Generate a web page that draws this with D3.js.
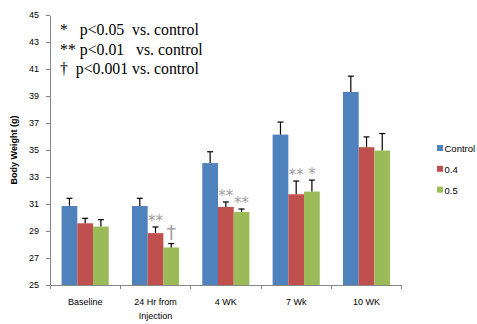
<!DOCTYPE html>
<html lang="en">
<head>
<meta charset="UTF-8">
<title>Body weight</title>
<style>
  body { margin: 0; background: #fff; }
  .axis path, .axis line { fill: none; stroke: #868686; shape-rendering: crispEdges; }
  .axis text { font-family: "Liberation Sans", Arial, sans-serif; font-size: 9px; fill: #000; }
  .note { font-family: "Liberation Serif", "Times New Roman", serif; font-size: 15.8px; fill: #000; }
  .sig { font-family: "DejaVu Sans", sans-serif; font-size: 15px; fill: #a0a0a0; text-anchor: middle; }
  .legend text { font-family: "Liberation Sans", Arial, sans-serif; font-size: 9.5px; }
</style>
</head>
<body>
<script src="https://d3js.org/d3.v7.min.js"></script>
<script>
var width = 477, height = 324;
var margin = { left: 50, right: 75, top: 15, bottom: 39 };

var categories = ["Baseline", "24 Hr from\nInjection", "4 WK", "7 Wk", "10 WK"];
var series = ["Control", "0.4", "0.5"];
var colors = ["#4F81BD", "#C0504D", "#9BBB59"];
var control = [30.85, 30.85, 34.03, 36.14, 39.30];
var dose04 = [29.57, 28.84, 30.78, 31.72, 35.21];
var dose05 = [29.33, 27.78, 30.41, 31.92, 34.96];
var errControl = [0.57, 0.57, 0.84, 0.93, 1.17];
var err04 = [0.37, 0.46, 0.37, 0.98, 0.76];
var err05 = [0.51, 0.29, 0.22, 0.85, 1.26];
var sig04 = ["", "**", "**", "**", ""];
var sig05 = ["", "†", "**", "*", ""];
var yTicks = [25, 27, 29, 31, 33, 35, 37, 39, 41, 43, 45];
var notes = ["*   p<0.05  vs. control", "** p<0.01   vs. control", "†  p<0.001 vs. control"];

var values = [control, dose04, dose05];
var errs = [errControl, err04, err05];
var sigs = [[], sig04, sig05];

var svg = d3.select("body").append("svg").attr("width", width).attr("height", height);

var x0 = d3.scaleBand().domain(d3.range(categories.length))
  .range([margin.left, 401.7]).paddingInner(0.33).paddingOuter(0.165);
var x1 = d3.scaleBand().domain(d3.range(series.length)).range([0, x0.bandwidth()]);
var y = d3.scaleLinear().domain([25, 45]).range([285, margin.top]);

// bars
var groups = svg.selectAll(".grp").data(categories).enter().append("g")
  .attr("transform", function (d, i) { return "translate(" + x0(i) + ",0)"; });

series.forEach(function (s, si) {
  groups.append("rect")
    .attr("x", x1(si))
    .attr("width", x1.bandwidth())
    .attr("y", function (d, i) { return y(values[si][i]); })
    .attr("height", function (d, i) { return y(25) - y(values[si][i]); })
    .attr("fill", colors[si]);
  // error bars (upper only)
  var cx = x1(si) + x1.bandwidth() / 2;
  groups.append("line")
    .attr("x1", cx).attr("x2", cx)
    .attr("y1", function (d, i) { return y(values[si][i]); })
    .attr("y2", function (d, i) { return y(values[si][i] + errs[si][i]); })
    .attr("stroke", "#000").attr("stroke-width", 1.2);
  groups.append("line")
    .attr("x1", cx - 3).attr("x2", cx + 3)
    .attr("y1", function (d, i) { return y(values[si][i] + errs[si][i]); })
    .attr("y2", function (d, i) { return y(values[si][i] + errs[si][i]); })
    .attr("stroke", "#000").attr("stroke-width", 1.2);
  if (si > 0) {
    groups.append("text").attr("class", "sig")
      .attr("x", cx)
      .attr("y", function (d, i) {
        var top = y(values[si][i] + errs[si][i]);
        return sigs[si][i] === "†" ? top - 5 : top - 1;
      })
      .style("font-size", function (d, i) { return sigs[si][i] === "†" ? "19px" : null; })
      .text(function (d, i) { return sigs[si][i]; });
  }
});

// x axis
var xAxis = svg.append("g").attr("class", "axis")
  .attr("transform", "translate(0," + y(25) + ")");
xAxis.append("line").attr("x1", margin.left).attr("x2", 401.7).attr("y1", 0).attr("y2", 0).attr("stroke", "#868686");
d3.range(categories.length + 1).forEach(function (i) {
  var tx = margin.left + i * (401.7 - margin.left) / categories.length;
  xAxis.append("line").attr("x1", tx).attr("x2", tx).attr("y1", 0).attr("y2", 4);
});
xAxis.selectAll(".lbl").data(categories).enter().append("text")
  .attr("text-anchor", "middle")
  .attr("transform", function (d, i) { return "translate(" + (x0(i) + x0.bandwidth() / 2) + ",20)"; })
  .selectAll("tspan").data(function (d) { return d.split("\n"); }).enter().append("tspan")
  .attr("x", 0).attr("dy", function (d, j) { return j === 0 ? 0 : 14; })
  .text(function (d) { return d; });

// y axis
svg.append("g").attr("class", "axis")
  .attr("transform", "translate(" + margin.left + ",0)")
  .call(d3.axisLeft(y).tickValues(yTicks).tickSize(4).tickSizeOuter(0).tickPadding(7));

svg.append("text")
  .attr("transform", "translate(17,150) rotate(-90)")
  .attr("text-anchor", "middle")
  .style("font-family", "Liberation Sans, Arial, sans-serif")
  .style("font-size", "9px").style("font-weight", "bold")
  .text("Body Weight (g)");

// notes
svg.selectAll(".note").data(notes).enter().append("text").attr("class", "note")
  .attr("x", 60).attr("y", function (d, i) { return 35 + i * 19.5; })
  .attr("xml:space", "preserve").style("white-space", "pre")
  .text(function (d) { return d; });

// legend
var legend = svg.append("g").attr("class", "legend");
series.forEach(function (s, i) {
  legend.append("rect").attr("x", 437).attr("y", 145 + i * 20.8).attr("width", 6).attr("height", 6).attr("fill", colors[i]);
  legend.append("text").attr("x", 444.5).attr("y", 152 + i * 20.8).text(s);
});
</script>
</body>
</html>
